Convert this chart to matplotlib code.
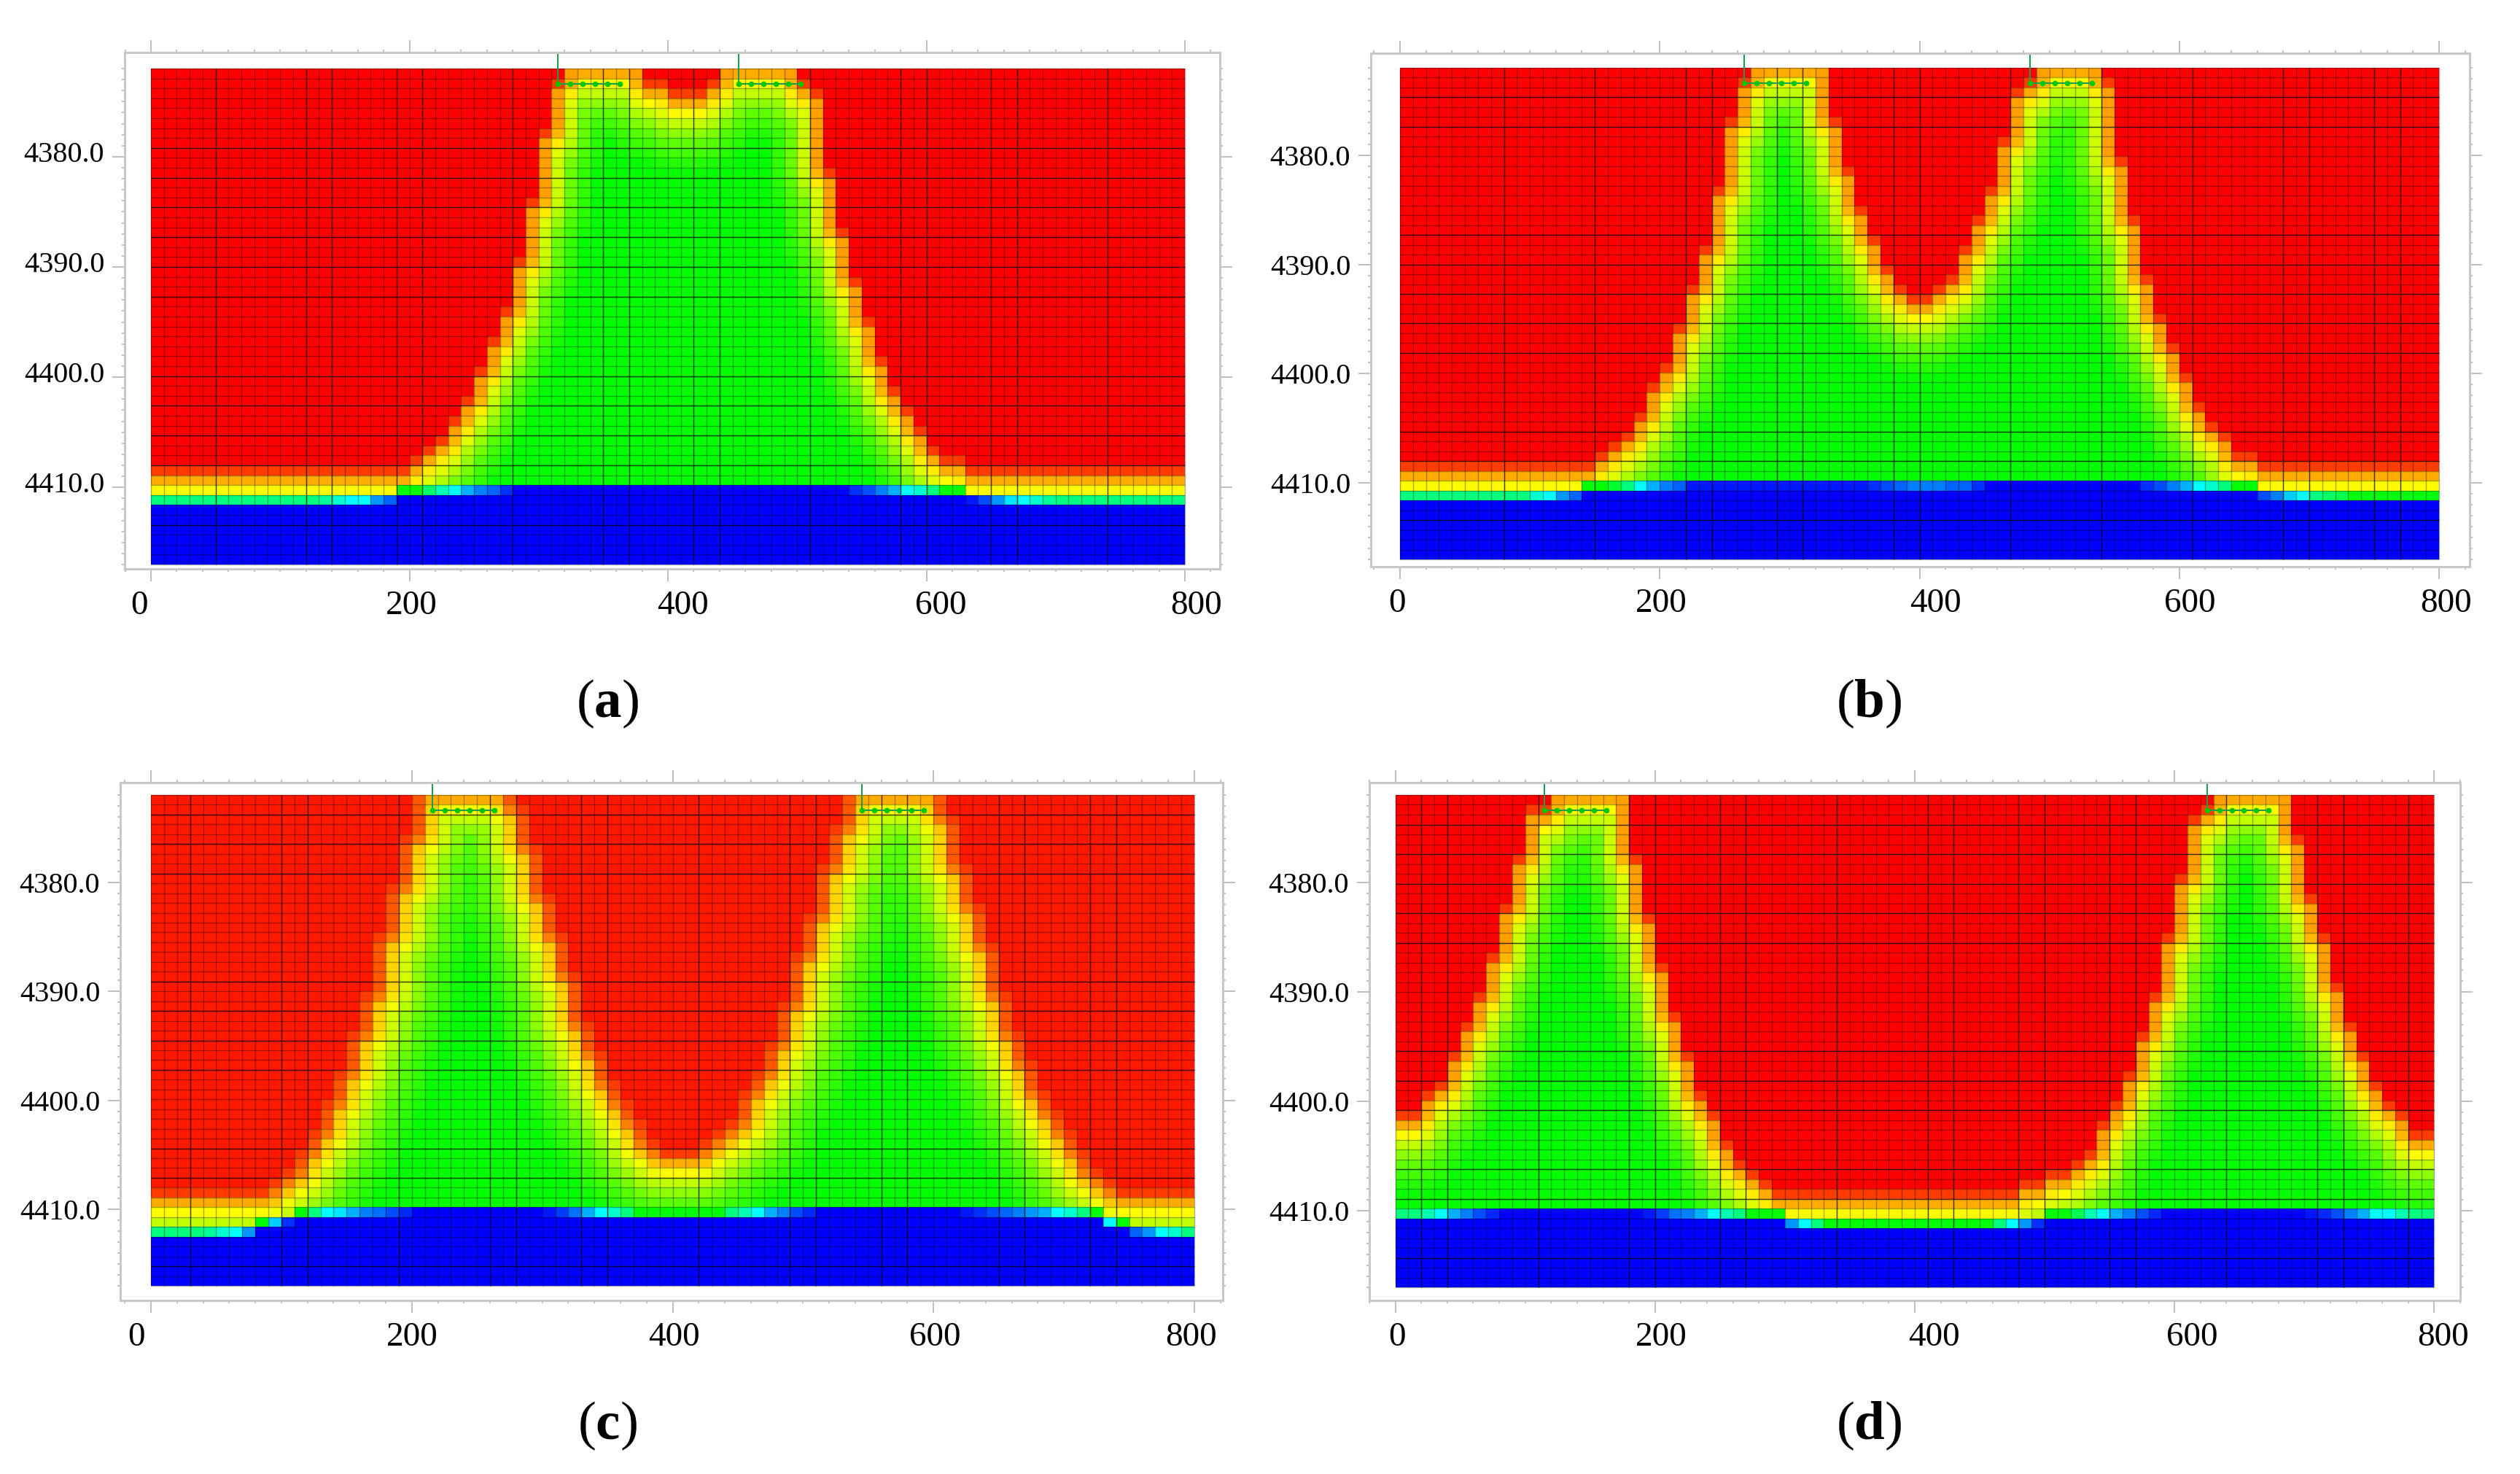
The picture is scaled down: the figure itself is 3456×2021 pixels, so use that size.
import numpy as np
import matplotlib
matplotlib.use('Agg')
import matplotlib.pyplot as plt
from matplotlib.colors import LinearSegmentedColormap
from matplotlib.transforms import ScaledTranslation

plt.rcParams['font.family'] = ['Liberation Serif', 'DejaVu Sans']
plt.rcParams['mathtext.fontset'] = 'custom'
plt.rcParams['mathtext.rm'] = 'Liberation Serif'
plt.rcParams['mathtext.bf'] = 'Liberation Serif:bold'

# first non-red row of each of the 80 columns
front_a = [40] * 20 + [39, 38, 37, 35, 33, 30, 27, 24, 19, 13, 6, 1] + [0] * 6 + [1, 1, 2, 2, 2, 1] + [0] * 6 + \
          [1, 2, 10, 16, 21, 25, 29, 32, 34, 36, 38, 39, 39] + [40] * 17
front_b = [40] * 15 + [39, 38, 37, 35, 32, 30, 26, 22, 18, 12, 5, 1] + [0] * 6 + \
          [5, 10, 14, 17, 20, 22, 23, 23, 22, 21, 18, 15, 12, 7, 2, 1] + [0] * 5 + \
          [1, 9, 15, 21, 25, 28, 31, 34, 36, 37, 39, 39] + [40] * 14
front_c = [40] * 9 + [39, 38, 36, 34, 31, 28, 24, 20, 14, 9, 4] + [0] * 8 + \
          [1, 5, 10, 14, 18, 23, 26, 29, 31, 33, 35, 36, 36, 36, 35, 34, 33, 30, 28, 25, 21, 16, 12, 7, 3] + [0] * 8 + \
          [2, 7, 11, 15, 20, 24, 27, 30, 32, 34, 36, 38, 39] + [40] * 6
front_d = [32, 32, 30, 29, 26, 23, 20, 16, 11, 6, 1, 1] + [0] * 6 + \
          [6, 12, 17, 22, 26, 30, 32, 35, 37, 38, 39] + [40] * 19 + \
          [39, 39, 38, 38, 37, 36, 33, 31, 28, 24, 20, 14, 8, 2, 1] + [0] * 6 + \
          [4, 10, 14, 19, 23, 26, 29, 31, 32, 34, 34]

# oil-water contact of each column: whole part is the row, fraction the colour of that row
water_a = [43.75] * 13 + [43.7, 43.6, 43.5, 43.5, 43.3, 43.2, 42.99, 42.99, 42.8, 42.65, 42.5, 42.35, 42.25, 42.2, 42.1] + \
          [42.0] * 26 + [42.1, 42.15, 42.25, 42.35, 42.5, 42.6, 42.75, 42.99, 42.99, 43.05, 43.15, 43.3, 43.45, 43.5,
                         43.6, 43.7] + [43.75] * 10
water_b = [43.75] * 10 + [43.6, 43.5, 43.3, 43.2, 42.99, 42.99, 42.9, 42.75, 42.5, 42.35, 42.25, 42.2] + [42.05] * 14 + \
          [42.1, 42.15, 42.2, 42.25, 42.25, 42.25, 42.2, 42.2, 42.1] + [42.0] * 12 + \
          [42.1, 42.15, 42.25, 42.35, 42.5, 42.6, 42.75, 42.99, 42.99, 43.15, 43.25, 43.4, 43.5, 43.75, 43.8, 43.85] + \
          [43.99] * 7
water_c = [44.75] * 4 + [44.7, 44.6, 44.5, 44.3, 43.99, 43.4, 43.1, 42.99, 42.75, 42.5, 42.45, 42.35, 42.25, 42.22,
                         42.15, 42.08] + [42.0] * 10 + \
          [42.05, 42.12, 42.22, 42.35, 42.5, 42.6, 42.75] + [42.99] * 7 + \
          [42.75, 42.65, 42.5, 42.35, 42.25, 42.15, 42.08] + [42.0] * 11 + \
          [42.05, 42.1, 42.15, 42.2, 42.25, 42.3, 42.35, 42.5, 42.6, 42.75, 42.99, 43.5, 43.99, 44.2, 44.3, 44.5, 44.6, 44.75]
water_d = [42.75, 42.75, 42.65, 42.5, 42.35, 42.25, 42.15, 42.08] + [42.0] * 11 + \
          [42.05, 42.12, 42.22, 42.25, 42.35, 42.5, 42.65, 42.75, 42.99, 42.99, 42.99, 43.3, 43.5, 43.75] + [43.99] * 13 + \
          [43.75, 43.5, 43.3, 43.1, 42.99, 42.99, 42.85, 42.65, 42.5, 42.35, 42.25, 42.15, 42.08] + [42.0] * 11 + \
          [42.04, 42.08, 42.15, 42.25, 42.35, 42.5, 42.5, 42.65, 42.75, 42.75]

# heavy grid lines seen in each panel (column and row boundaries)
heavy_cols_a = [5, 12, 14, 19, 21, 28, 35, 37, 42, 44, 51, 58, 60, 65, 67, 74]
heavy_rows_a = [8, 11, 14, 17, 20, 23, 31, 34, 37, 40, 46]
heavy_cols_b = [8, 15, 22, 24, 29, 31, 38, 40, 47, 54, 61, 68, 70, 75, 77]
heavy_rows_b = [3, 6, 17, 20, 23, 26, 29, 37, 40, 46]
heavy_cols_c = [3, 10, 12, 19, 26, 28, 33, 35, 42, 49, 51, 56, 58, 65, 67, 72, 74]
heavy_rows_c = [2, 5, 8, 19, 22, 25, 28, 36, 39, 48]
heavy_cols_d = [2, 4, 11, 18, 20, 25, 27, 34, 41, 43, 48, 50, 55, 57, 64, 71, 73, 78]
heavy_rows_d = [3, 6, 9, 12, 15, 26, 29, 32, 38, 41, 47]

# well heads
wells_a = [315, 455]
wells_b = [265, 485]
wells_c = [216, 545]
wells_d = [115, 625]
well_perf = [0, 9.5, 19, 28.5, 38, 47.5]

x_ticks = [0, 200, 400, 600, 800]
y_ticks = [4380, 4390, 4400, 4410]

W, H = 3456, 2021
n_rows, n_cols = 50, 80
x_edges = 10.0 * np.arange(n_cols + 1)
y_edges = 4372 + 0.9 * np.arange(n_rows + 1)

cmap = LinearSegmentedColormap.from_list('sat', [
    (0.0, '#0000ff'), (0.125, '#0080ff'), (0.25, '#00ffff'), (0.375, '#00ff80'), (0.5, '#00ff00'),
    (0.625, '#80ff00'), (0.75, '#ffff00'), (0.875, '#ff8000'), (1.0, '#ff0000')])


def build_field(front, water, scale, red):
    field = np.zeros((n_rows, n_cols))
    cols = np.arange(n_cols)
    front = np.array(front)
    ceil = np.where(front == 0, -2, front - 1)
    for c in cols:
        w = int(water[c])
        for r in range(n_rows):
            if r > w:
                continue
            if r == w:
                field[r, c] = (water[c] - w) * 0.5
            elif r < front[c]:
                field[r, c] = red
            else:
                # colour follows the distance to the red area
                dr = np.maximum(0, r - ceil)
                d = np.sqrt(((c - cols) / scale) ** 2 + (0.5 * dr) ** 2).min()
                field[r, c] = np.interp(d, [0, 0.5, 1, 1.5, 2, 3, 4.7],
                                        [red, 0.94, 0.83, 0.75, 0.69, 0.59, 0.5])
    return field


def draw_panel(frame, grid, front, water, wells, heavy_cols, heavy_rows, x_shift, y_shift=0, scale=1.05, red=1.0):
    l, r, t, b = frame
    gl, gr, gt, gb = grid
    ax = fig.add_axes([l / W, 1 - b / H, (r - l) / W, (b - t) / H])
    sx = (gr - gl) / 800.0
    sy = (gb - gt) / 45.0
    ax.set_xlim((l - gl) / sx, (r - gl) / sx)
    ax.set_ylim(4372 + (b - gt) / sy, 4372 + (t - gt) / sy)

    ax.pcolormesh(x_edges, y_edges, build_field(front, water, scale, red), cmap=cmap, vmin=0, vmax=1)

    ax.vlines(x_edges, y_edges[0], y_edges[-1], color='k', alpha=0.33, lw=1.0)
    ax.hlines(y_edges, x_edges[0], x_edges[-1], color='k', alpha=0.33, lw=1.0)
    ax.vlines(x_edges[heavy_cols], y_edges[0], y_edges[-1], color='k', alpha=0.6, lw=1.0)
    ax.hlines(y_edges[heavy_rows], x_edges[0], x_edges[-1], color='k', alpha=0.6, lw=1.0)

    y_top = ax.get_ylim()[1]
    y_perf = 4373.4
    for well in wells:
        px = [well + p for p in well_perf]
        ax.plot([well, well], [y_top, y_perf], color='#1f9a50', lw=1.5, clip_on=False)
        ax.plot(px, [y_perf] * len(px), color='#1f9a50', lw=1.5, marker='o', ms=4.5, mfc='#00c800', mec='#00c800')

    for s in ax.spines.values():
        s.set_color('#c8c8c8')
        s.set_linewidth(2.2)
    ax.set_xticks(x_ticks)
    ax.set_yticks(y_ticks)
    ax.set_yticklabels(['%.1f' % v for v in y_ticks])
    ax.set_xticks(np.arange(-20, 821, 20), minor=True)
    ax.set_yticks(np.arange(4372, 4418, 1), minor=True)
    ax.tick_params(which='major', length=12, width=1.2, color='#b4b4b4', top=True, right=True)
    ax.tick_params(which='minor', length=3, width=1.2, color='#b4b4b4', top=True, right=True)
    ax.tick_params(axis='x', which='major', labelsize=34, pad=9)
    ax.tick_params(axis='y', which='major', labelsize=29, pad=8)

    # the labels sit a little off their ticks in the original
    for lbl, dx in zip(ax.get_xticklabels(), x_shift):
        lbl.set_transform(lbl.get_transform() + ScaledTranslation(dx / 100, 0, fig.dpi_scale_trans))
    for lbl in ax.get_yticklabels():
        lbl.set_transform(lbl.get_transform() + ScaledTranslation(0, y_shift / 100, fig.dpi_scale_trans))
    return ax


fig = plt.figure(figsize=(W / 100, H / 100), dpi=100)

draw_panel((171, 1673, 72, 780), (207, 1625, 94, 774), front_a, water_a, wells_a, heavy_cols_a, heavy_rows_a,
           [-16, 3, 20, 20, 16], y_shift=7)
draw_panel((1880, 3387, 73, 777), (1920, 3345, 93, 767), front_b, water_b, wells_b, heavy_cols_b, heavy_rows_b,
           [-4, 2, 22, 15, 10])
draw_panel((165, 1677, 1073, 1783), (207, 1638, 1090, 1763), front_c, water_c, wells_c, heavy_cols_c, heavy_rows_c,
           [-20, 0, 2, 2, -4], scale=1.6, red=0.975)
draw_panel((1878, 3374, 1073, 1783), (1911.7, 3341, 1090, 1765), front_d, water_d, wells_d, heavy_cols_d, heavy_rows_d,
           [2, 8, 26, 24, 12])

for label, px, py in [('a', 833, 965), ('b', 2563, 965), ('c', 833, 1955), ('d', 2563, 1955)]:
    fig.text(px / W, 1 - py / H, r'($\mathbf{%s}$)' % label, fontsize=54, ha='center', va='center')

fig.savefig('out.png', dpi=100)
